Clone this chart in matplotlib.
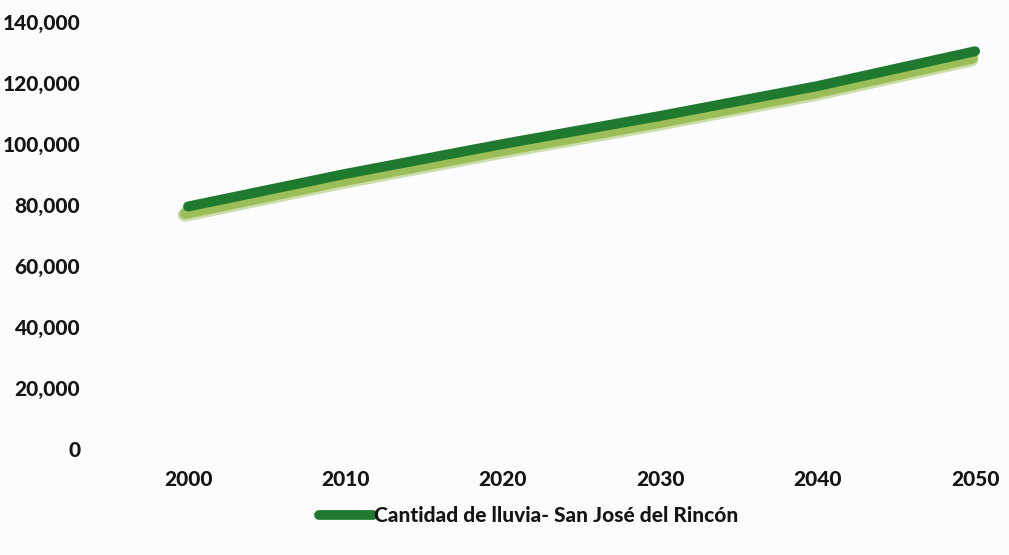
import matplotlib
matplotlib.use("Agg")
import matplotlib.pyplot as plt
import matplotlib.patheffects as pe
from matplotlib.lines import Line2D
from matplotlib.ticker import FuncFormatter

# ==========================
# Data
# ==========================
years = [2000, 2010, 2020, 2030, 2040, 2050]
lluvia = [79500, 90200, 100000, 109200, 119000, 130400]
y_ticks = [0, 20000, 40000, 60000, 80000, 100000, 120000, 140000]
serie_label = "Cantidad de lluvia- San José del Rincón"

plt.rcParams["font.family"] = ["Lato", "DejaVu Sans"]

bg = "#fcfcfe"
dark_green = "#1f7a2f"
shadow_green = "#93b949"
text_col = "#151515"

# ==========================
# Figure
# ==========================
fig = plt.figure(figsize=(10.09, 5.55), dpi=100, facecolor=bg)
ax = fig.add_axes([110 / 1009, 106 / 555, 899 / 1009, 427 / 555])
ax.set_facecolor(bg)

ax.plot(years, lluvia, color=dark_green, linewidth=7.2,
        solid_capstyle="round", clip_on=False,
        path_effects=[pe.Stroke(offset=(-2.5, -6), linewidth=10,
                                foreground=shadow_green, alpha=0.45),
                      pe.Stroke(offset=(-2, -5), linewidth=8,
                                foreground=shadow_green, alpha=0.85),
                      pe.Normal()])

ax.set_xlim(1995.04, 2052.16)
ax.set_ylim(0, 140000)
ax.set_xticks(years)
ax.set_yticks(y_ticks)
ax.yaxis.set_major_formatter(FuncFormatter(lambda v, p: f"{int(v):,}"))

for s in ax.spines.values():
    s.set_visible(False)
ax.tick_params(length=0, labelsize=15, colors=text_col)
ax.tick_params(axis="y", pad=21.5)
ax.tick_params(axis="x", pad=15)
for lab in ax.get_xticklabels() + ax.get_yticklabels():
    lab.set_fontweight("black")

handle = Line2D([], [], color=dark_green, linewidth=7, solid_capstyle="round")
leg = fig.legend([handle], [serie_label], loc="center",
                 bbox_to_anchor=(529 / 1009, 1 - 516 / 555),
                 frameon=False, handlelength=2.6, handletextpad=0.05,
                 prop={"weight": "black", "size": 15})
for t in leg.get_texts():
    t.set_color(text_col)

fig.savefig("out.png", dpi=100, facecolor=bg)
